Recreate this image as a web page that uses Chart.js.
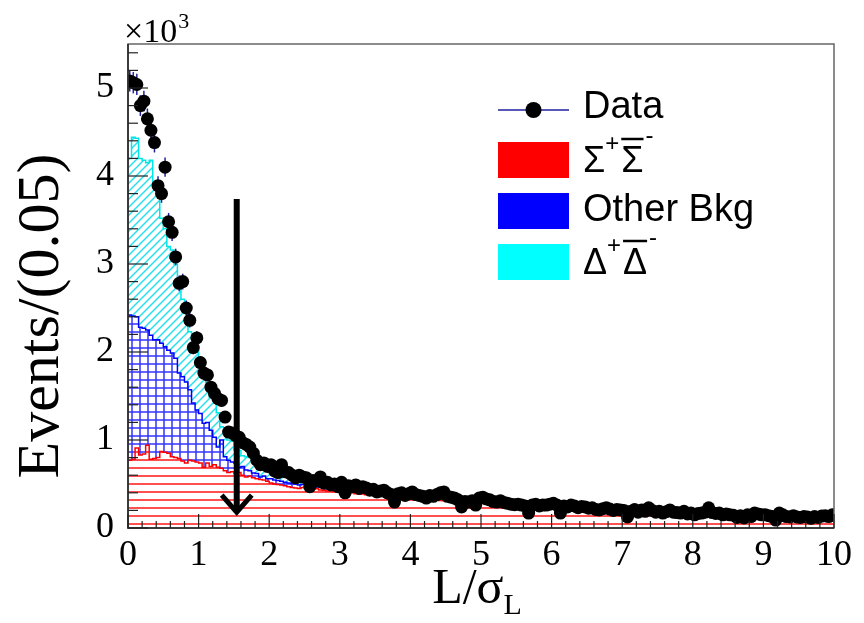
<!DOCTYPE html>
<html>
<head>
<meta charset="utf-8">
<script src="https://cdn.jsdelivr.net/npm/chart.js@4.4.0/dist/chart.umd.min.js"></script>
<style>
  html, body { margin: 0; padding: 0; background: #fff; }
</style>
</head>
<body>
<canvas id="lenChart" width="864" height="623"></canvas>
<script>
// bins of 0.05 in L/sigma_L, 0..10 (200 bins)
const binWidth = 0.05;

// measured events per bin
const dataCounts = [
  5080, 5060, 5040, 4800, 4850, 4650, 4520, 4380, 3890, 3800,
  4100, 3480, 3360, 3080, 2780, 2800, 2500, 2360, 2050, 2160,
  1880, 1760, 1740, 1600, 1530, 1470, 1450, 1260, 1090, 1080,
  1050, 1030, 970, 950, 920, 850, 770, 720, 740, 700,
  720, 650, 630, 720, 640, 630, 600, 570, 600, 580,
  570, 470, 540, 530, 580, 510, 520, 490, 500, 470,
  520, 400, 480, 470, 490, 450, 470, 455, 430, 440,
  410, 420, 430, 400, 380, 295, 390, 400, 370, 390,
  410, 380, 370, 360, 340, 370, 360, 380, 400, 410,
  360, 350, 340, 320, 240, 300, 295, 310, 260, 340,
  350, 330, 320, 300, 295, 310, 290, 280, 270, 265,
  270, 260, 250, 170, 260, 270, 250, 260, 260, 270,
  280, 260, 170, 250, 240, 260, 250, 230, 245, 240,
  225, 230, 210, 205, 220, 230, 215, 200, 210, 205,
  200, 125, 190, 210, 180, 205, 190, 230, 200, 180,
  190, 170, 185, 205, 180, 175, 170, 190, 160, 170,
  150, 165, 170, 180, 230, 175, 165, 170, 150, 160,
  150, 145, 120, 140, 115, 150, 130, 170, 160, 150,
  150, 140, 130, 90, 170, 150, 130, 125, 140, 125,
  120, 130, 125, 110, 130, 120, 135, 140, 130, 150
];

// Sigma+ anti-Sigma- component
const sigmaCounts = [
  770, 780, 910, 830, 840, 940, 780, 790, 800, 870,
  860, 850, 810, 800, 790, 760, 740, 770, 760, 750,
  740, 690, 740, 700, 720, 690, 680, 650, 630, 640,
  620, 630, 600, 580, 590, 570, 560, 550, 545, 530,
  510, 500, 495, 490, 480, 470, 460, 455, 450, 460,
  455, 448, 442, 446, 432, 428, 420, 426, 414, 408,
  410, 402, 398, 401, 390, 388, 385, 379, 378, 371,
  373, 365, 364, 361, 355, 353, 349, 347, 343, 341,
  337, 336, 331, 330, 327, 321, 321, 317, 313, 309,
  307, 303, 301, 297, 295, 291, 289, 284, 283, 279,
  277, 273, 271, 267, 265, 261, 259, 255, 253, 250,
  248, 245, 241, 240, 237, 235, 231, 230, 227, 226,
  223, 222, 218, 217, 213, 212, 209, 208, 205, 204,
  201, 200, 197, 196, 193, 192, 190, 188, 186, 185,
  182, 182, 179, 178, 176, 174, 173, 171, 170, 168,
  166, 166, 163, 163, 161, 160, 158, 157, 155, 154,
  153, 151, 150, 149, 148, 146, 146, 144, 143, 142,
  141, 139, 139, 137, 137, 135, 134, 133, 132, 131,
  130, 129, 128, 127, 126, 125, 124, 123, 122, 122,
  121, 120, 119, 118, 117, 117, 116, 115, 114, 113
];

// other background component
const otherCounts = [
  1650, 1630, 1490, 1450, 1430, 1310, 1410, 1350, 1340, 1230,
  1200, 1170, 1180, 1130, 970, 960, 920, 800, 660, 590,
  560, 500, 460, 410, 310, 230, 320, 160, 140, 110,
  120, 60, 100, 80, 60, 55, 60, 30, 45, 30,
  50, 45, 45, 40, 40, 40, 45, 45, 40, 35,
  35, 30, 32, 28, 30, 25, 26, 22, 24, 20,
  20, 18, 20, 16, 18, 15, 16, 14, 15, 12,
  14, 12, 13, 10, 12, 10, 11, 9, 10, 9,
  9, 8, 9, 8, 8, 7, 8, 7, 7, 8,
  7, 6, 7, 6, 7, 6, 6, 7, 6, 6,
  6, 5, 6, 5, 6, 5, 5, 6, 5, 5,
  5, 4, 5, 5, 4, 5, 4, 4, 5, 4,
  4, 4, 4, 3, 4, 4, 3, 4, 3, 3,
  3, 4, 3, 3, 3, 3, 2, 3, 3, 3,
  3, 2, 3, 2, 2, 3, 2, 2, 2, 2,
  2, 2, 2, 2, 2, 2, 2, 1, 2, 2,
  2, 1, 2, 1, 2, 1, 1, 2, 1, 1,
  1, 1, 1, 2, 1, 1, 1, 1, 1, 1,
  1, 1, 1, 1, 1, 1, 1, 1, 1, 1,
  1, 1, 1, 1, 1, 1, 1, 1, 1, 1
];

// Delta+ anti-Delta- component
const deltaCounts = [
  1780, 2030, 2030, 1920, 1910, 1900, 1990, 1780, 1760, 1420,
  1340, 1180, 1170, 1070, 1010, 880, 780, 660, 750, 680,
  550, 530, 450, 380, 420, 390, 150, 330, 230, 240,
  150, 190, 120, 150, 150, 145, 150, 185, 170, 180,
  160, 155, 150, 140, 130, 120, 105, 100, 100, 80,
  70, 65, 60, 58, 55, 50, 48, 45, 42, 40,
  38, 35, 33, 32, 30, 28, 27, 25, 24, 22,
  21, 20, 19, 18, 17, 16, 15, 14, 14, 13,
  12, 12, 11, 11, 11, 10, 10, 10, 9, 9,
  9, 9, 8, 8, 8, 8, 7, 7, 7, 7,
  7, 6, 6, 6, 6, 6, 6, 5, 5, 5,
  5, 5, 5, 5, 4, 4, 4, 4, 4, 4,
  4, 4, 4, 3, 3, 3, 3, 3, 3, 3,
  3, 3, 3, 3, 3, 3, 2, 3, 2, 2,
  2, 2, 2, 2, 2, 2, 2, 2, 2, 2,
  2, 2, 2, 1, 2, 2, 1, 2, 1, 1,
  1, 1, 1, 1, 1, 1, 1, 1, 1, 1,
  1, 1, 1, 1, 1, 1, 1, 1, 1, 1,
  1, 1, 1, 1, 1, 1, 1, 1, 1, 1,
  1, 1, 1, 1, 1, 1, 1, 1, 1, 1
];

const legendLabels = ["Data", "Σ", "Other Bkg", "Δ"];
const xTicks = [0, 1, 2, 3, 4, 5, 6, 7, 8, 9, 10];
const yTicks = [0, 1000, 2000, 3000, 4000, 5000];
const xRange = [0, 10];
const yRange = [0, 5500];

// selection cut (arrow)
const cutX = 1.54;
const arrowTop = 3740;
const arrowTip = 180;

// ---------- helpers ----------
function cumulate(...arrs) {
  return arrs[0].map((_, i) => arrs.reduce((s, a) => s + a[i], 0));
}

// left-edge points + closing point for step histograms
function toSteps(arr) {
  const pts = arr.map((v, i) => ({ x: i * binWidth, y: v }));
  pts.push({ x: arr.length * binWidth, y: arr[arr.length - 1] });
  return pts;
}

const stackSigma = sigmaCounts;
const stackOther = cumulate(sigmaCounts, otherCounts);
const stackAll = cumulate(sigmaCounts, otherCounts, deltaCounts);

const dataPoints = dataCounts.map((v, i) => ({ x: (i + 0.5) * binWidth, y: v }));

function makePattern(kind, color, lw) {
  const c = document.createElement("canvas");
  c.width = 8; c.height = 8;
  const g = c.getContext("2d");
  g.strokeStyle = color;
  g.lineWidth = lw;
  g.beginPath();
  if (kind === "h") {
    g.moveTo(0, 4); g.lineTo(8, 4);
  } else if (kind === "grid") {
    g.moveTo(0, 4); g.lineTo(8, 4);
    g.moveTo(4, 0); g.lineTo(4, 8);
  } else {
    g.moveTo(-1, 9); g.lineTo(9, -1);
    g.moveTo(-1, 1); g.lineTo(1, -1);
    g.moveTo(7, 9); g.lineTo(9, 7);
  }
  g.stroke();
  return g.createPattern(c, "repeat");
}

const RED = "#ff0000";
const BLUE = "#0000ff";
const CYAN = "#00e5e5";
const NAVY = "#2020a0";

const serif = "'Liberation Serif', 'Times New Roman', serif";
const sans = "'Liberation Sans', Arial, sans-serif";

// ---------- extra drawing (ROOT-like frame, legend, arrow, errors) ----------
const decor = {
  id: "decor",
  beforeDatasetDraw(chart, args) {
    if (args.index !== 3) return;
    const { ctx, scales: { x, y } } = chart;
    ctx.save();
    ctx.strokeStyle = NAVY;
    ctx.lineWidth = 1.5;
    dataPoints.forEach(p => {
      const err = Math.sqrt(p.y) * 1.7;
      const px = x.getPixelForValue(p.x);
      ctx.beginPath();
      ctx.moveTo(px, y.getPixelForValue(p.y + err));
      ctx.lineTo(px, y.getPixelForValue(Math.max(0, p.y - err)));
      ctx.stroke();
    });
    ctx.restore();
  },
  afterDraw(chart) {
    const { ctx, chartArea: a, scales: { x, y } } = chart;
    ctx.save();

    // frame
    ctx.strokeStyle = "#666";
    ctx.lineWidth = 1.5;
    ctx.strokeRect(a.left, a.top, a.right - a.left, a.bottom - a.top);
    ctx.strokeStyle = "#222";
    ctx.beginPath();
    ctx.moveTo(a.left, a.top); ctx.lineTo(a.left, a.bottom); ctx.lineTo(a.right, a.bottom);
    ctx.stroke();

    // inner ticks
    ctx.lineWidth = 1.2;
    for (let k = 0; k <= 50; k++) {
      const px = x.getPixelForValue(k * 0.2);
      const len = k % 5 === 0 ? 14 : 7;
      ctx.beginPath(); ctx.moveTo(px, a.bottom); ctx.lineTo(px, a.bottom - len); ctx.stroke();
    }
    for (let v = 0; v <= yRange[1]; v += 200) {
      const py = y.getPixelForValue(v);
      const len = v % 1000 === 0 ? 20 : 10;
      ctx.beginPath(); ctx.moveTo(a.left, py); ctx.lineTo(a.left + len, py); ctx.stroke();
    }

    // x10^3
    ctx.fillStyle = "#000";
    ctx.textBaseline = "alphabetic";
    ctx.textAlign = "left";
    ctx.font = "34px " + serif;
    ctx.fillText("×10", 124, 42);
    const w10 = ctx.measureText("×10").width;
    ctx.font = "22px " + serif;
    ctx.fillText("3", 124 + w10 + 1, 28);

    // axis titles
    ctx.font = "60px " + serif;
    ctx.save();
    ctx.translate(58, 316);
    ctx.rotate(-Math.PI / 2);
    ctx.textAlign = "center";
    ctx.fillText("Events/(0.05)", 0, 0);
    ctx.restore();

    ctx.textAlign = "left";
    ctx.font = "50px " + serif;
    const tMain = "L/σ";
    const wMain = ctx.measureText(tMain).width;
    ctx.font = "30px " + serif;
    const wSub = ctx.measureText("L").width;
    const tx = 477 - (wMain + wSub) / 2;
    ctx.font = "50px " + serif;
    ctx.fillText(tMain, tx, 603);
    ctx.font = "30px " + serif;
    ctx.fillText("L", tx + wMain, 614);

    // cut arrow
    const ax = x.getPixelForValue(cutX);
    const ay0 = y.getPixelForValue(arrowTop);
    const ay1 = y.getPixelForValue(arrowTip);
    ctx.strokeStyle = "#000";
    ctx.lineWidth = 6;
    ctx.lineCap = "butt";
    ctx.beginPath(); ctx.moveTo(ax, ay0); ctx.lineTo(ax, ay1 - 2); ctx.stroke();
    ctx.lineWidth = 5;
    ctx.lineJoin = "miter";
    ctx.beginPath();
    ctx.moveTo(ax - 15, ay1 - 17); ctx.lineTo(ax, ay1); ctx.lineTo(ax + 15, ay1 - 17);
    ctx.stroke();

    // legend
    const lx = 498, lw = 71, lh = 36, tx0 = 583;
    const rows = [110, 160, 211, 262];
    ctx.strokeStyle = NAVY;
    ctx.lineWidth = 1.5;
    ctx.beginPath(); ctx.moveTo(lx, rows[0]); ctx.lineTo(lx + lw, rows[0]); ctx.stroke();
    ctx.fillStyle = "#000";
    ctx.beginPath(); ctx.arc(lx + lw / 2, rows[0], 8, 0, Math.PI * 2); ctx.fill();

    [[RED, rows[1]], [BLUE, rows[2]], ["#00ffff", rows[3]]].forEach(([c, cy]) => {
      ctx.fillStyle = c;
      ctx.fillRect(lx, cy - lh / 2, lw, lh);
    });

    ctx.fillStyle = "#000";
    ctx.textBaseline = "middle";
    ctx.font = "38px " + sans;
    ctx.fillText(legendLabels[0], tx0, rows[0] - 2);
    ctx.fillText(legendLabels[2], tx0, rows[2]);

    // particle pair labels with overline and charges
    function pair(sym, cy) {
      ctx.font = "36px " + sans;
      ctx.textBaseline = "middle";
      ctx.fillText(sym, tx0, cy + 2);
      const ws = ctx.measureText(sym).width;
      ctx.font = "24px " + sans;
      ctx.fillText("+", tx0 + ws, cy - 16);
      const x2 = tx0 + ws + 16;
      ctx.font = "36px " + sans;
      ctx.fillText(sym, x2, cy + 2);
      ctx.lineWidth = 2.5;
      ctx.strokeStyle = "#000";
      ctx.beginPath(); ctx.moveTo(x2, cy - 21); ctx.lineTo(x2 + ws, cy - 21); ctx.stroke();
      ctx.font = "24px " + sans;
      ctx.fillText("-", x2 + ws + 2, cy - 24);
    }
    pair(legendLabels[1], rows[1]);
    pair(legendLabels[3], rows[3]);

    ctx.restore();
  }
};

const chart = new Chart(document.getElementById("lenChart"), {
  type: "line",
  data: {
    datasets: [
      {
        label: "Sigma",
        data: toSteps(stackSigma),
        stepped: "before",
        borderColor: RED,
        borderWidth: 1.5,
        backgroundColor: makePattern("h", "rgba(255,50,50,0.85)", 2),
        fill: "origin",
        pointRadius: 0,
        order: 1
      },
      {
        label: "Other Bkg",
        data: toSteps(stackOther),
        stepped: "before",
        borderColor: BLUE,
        borderWidth: 1.5,
        backgroundColor: makePattern("grid", "rgba(0,0,255,0.8)", 1.5),
        fill: "-1",
        pointRadius: 0,
        order: 2
      },
      {
        label: "Delta",
        data: toSteps(stackAll),
        stepped: "before",
        borderColor: CYAN,
        borderWidth: 1.5,
        backgroundColor: makePattern("diag", "rgba(0,220,230,0.85)", 1.5),
        fill: "-1",
        pointRadius: 0,
        order: 3
      },
      {
        label: "Data",
        data: dataPoints,
        showLine: false,
        pointRadius: 6.5,
        pointBackgroundColor: "#000",
        pointBorderColor: "#000",
        pointBorderWidth: 0,
        order: 0
      }
    ]
  },
  options: {
    responsive: false,
    animation: false,
    layout: { padding: { left: 0, right: 30, top: 44, bottom: 0 } },
    plugins: { legend: { display: false }, tooltip: { enabled: false } },
    scales: {
      x: {
        type: "linear",
        min: xRange[0],
        max: xRange[1],
        grid: { display: false, drawTicks: false },
        border: { display: false },
        afterFit: s => { s.height = 95; },
        afterBuildTicks: s => { s.ticks = xTicks.map(v => ({ value: v })); },
        ticks: {
          autoSkip: false,
          maxRotation: 0,
          padding: 6,
          color: "#000",
          font: { family: serif, size: 36 },
          callback: v => v
        }
      },
      y: {
        min: yRange[0],
        max: yRange[1],
        grid: { display: false, drawTicks: false },
        border: { display: false },
        afterFit: s => { s.width = 128; },
        afterBuildTicks: s => { s.ticks = yTicks.map(v => ({ value: v })); },
        ticks: {
          autoSkip: false,
          padding: 14,
          color: "#000",
          font: { family: serif, size: 36 },
          callback: v => v / 1000
        }
      }
    }
  },
  plugins: [decor]
});
</script>
</body>
</html>
